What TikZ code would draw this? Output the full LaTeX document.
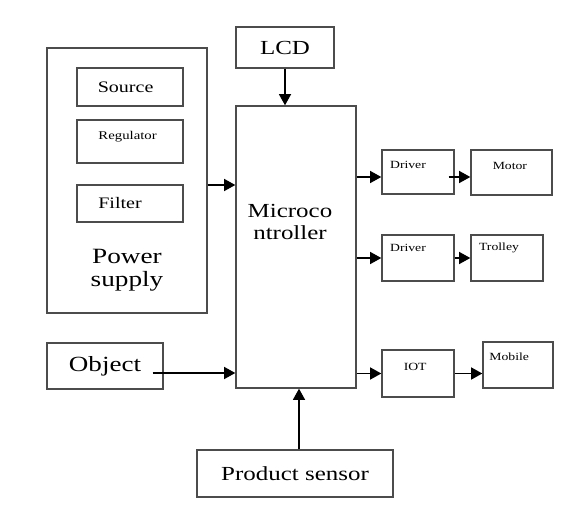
\documentclass[tikz,border=0pt]{standalone}
\usepackage{fontspec}
\setmainfont{Liberation Serif}[FakeStretch=1.25]
\usetikzlibrary{arrows.meta}

\begin{document}
\begin{tikzpicture}[>={Triangle[length=2.8mm,width=3mm]},
  blk/.style={draw=black!70, line width=1pt, inner sep=0pt},
  conn/.style={->, line width=1.2pt},
  bigf/.style={font=\fontsize{14.2}{15.4}\selectfont},
  midf/.style={font=\fontsize{11.4}{13}\selectfont},
  smallf/.style={font=\fontsize{7.8}{9}\selectfont}]
  \useasboundingbox (0,0) rectangle (14.575,-12.85);
  % power supply block
  \node[blk, minimum width=4cm, minimum height=6.625cm,
    label={[font=\fontsize{15.5}{16.2}\selectfont, align=center, yshift=-2.24cm]center:Power\\supply}] (ps) at (3.175,-4.5125) {};
  \node[blk, minimum width=2.65cm, minimum height=0.95cm,
    label={[midf, xshift=-0.11cm]center:Source}] (src) at (3.25,-2.175) {};
  \node[blk, minimum width=2.65cm, minimum height=1.075cm,
    label={[font=\fontsize{8.4}{10}\selectfont, xshift=-0.06cm, yshift=0.11cm]center:Regulator}] (reg) at (3.25,-3.5375) {};
  \node[blk, minimum width=2.65cm, minimum height=0.925cm,
    label={[midf, xshift=-0.25cm]center:Filter}] (flt) at (3.25,-5.0875) {};
  % controller and inputs
  \node[blk, bigf, minimum width=2.45cm, minimum height=1.025cm] (lcd) at (7.125,-1.1875) {LCD};
  \node[blk, minimum width=3cm, minimum height=7.05cm,
    label={[bigf, align=center, xshift=-0.15cm, yshift=0.625cm]center:Microco\\ntroller}] (mc) at (7.4,-6.175) {};
  \node[blk, font=\fontsize{15.4}{17}\selectfont, minimum width=2.9cm, minimum height=1.15cm] (obj) at (2.625,-9.15) {Object};
  \node[blk, bigf, minimum width=4.9cm, minimum height=1.175cm] (sen) at (7.375,-11.8375) {Product sensor};
  % outputs
  \node[blk, minimum width=1.8cm, minimum height=1.1cm,
    label={[smallf, xshift=-0.25cm, yshift=0.175cm]center:Driver}] (d1) at (10.45,-4.3) {};
  \node[blk, minimum width=2.025cm, minimum height=1.125cm,
    label={[smallf, xshift=-0.04cm, yshift=0.16cm]center:Motor}] (mot) at (12.7875,-4.3125) {};
  \node[blk, minimum width=1.8cm, minimum height=1.15cm,
    label={[smallf, xshift=-0.25cm, yshift=0.25cm]center:Driver}] (d2) at (10.45,-6.45) {};
  \node[blk, minimum width=1.8cm, minimum height=1.15cm,
    label={[smallf, xshift=-0.2cm, yshift=0.25cm]center:Trolley}] (tro) at (12.675,-6.45) {};
  \node[blk, minimum width=1.8cm, minimum height=1.175cm,
    label={[smallf, xshift=-0.07cm, yshift=0.16cm]center:IOT}] (iot) at (10.45,-9.3375) {};
  \node[blk, minimum width=1.75cm, minimum height=1.15cm,
    label={[smallf, xshift=-0.22cm, yshift=0.2cm]center:Mobile}] (mob) at (12.95,-9.125) {};
  % connections
  \draw[conn] (lcd.south) -- (lcd.south |- mc.north);
  \draw[conn] ([yshift=-0.1125cm]ps.east) -- ([yshift=-0.1125cm]ps.east -| mc.west);
  \draw[conn] ([shift={(-0.275,-0.175)}]obj.east) -- ([yshift=-0.175cm]obj.east -| mc.west);
  \draw[conn] ([xshift=0.1cm]sen.north) -- ([xshift=0.1cm]sen.north |- mc.south);
  \draw[conn] ([yshift=-0.125cm]d1.west -| mc.east) -- ([yshift=-0.125cm]d1.west);
  \draw[conn] ([shift={(-0.15,-0.125)}]d1.east) -- ([yshift=-0.125cm]d1.east -| mot.west);
  \draw[conn] (d2.west -| mc.east) -- (d2.west);
  \draw[conn] (d2.east) -- (tro.west);
  \draw[conn] (iot.west -| mc.east) -- (iot.west);
  \draw[conn] (iot.east) -- (iot.east -| mob.west);
\end{tikzpicture}
\end{document}
